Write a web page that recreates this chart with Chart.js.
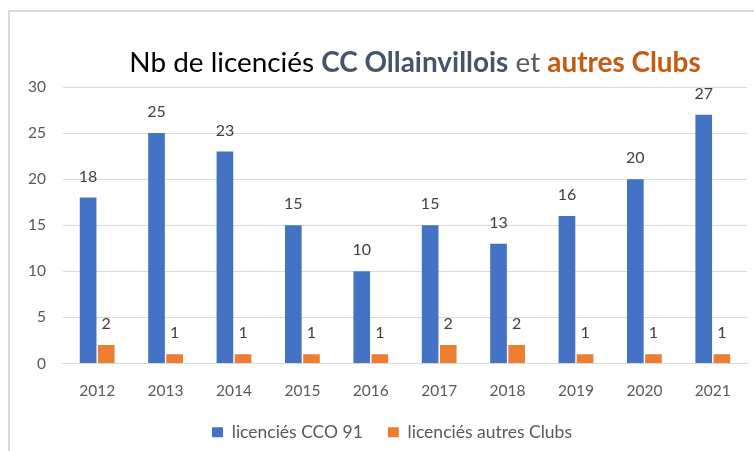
<!DOCTYPE html>
<html>
<head>
<meta charset="utf-8">
<script src="https://cdn.jsdelivr.net/npm/chart.js@4"></script>
<style>
    body { margin: 0; background: #fff; font-family: Lato, sans-serif; }
    #frame {
        position: absolute; left: 8px; top: 10px; width: 760px; height: 460px;
        border-left: 2px solid #d9d9d9; border-top: 2px solid #d9d9d9;
    }
    #title {
        position: absolute; left: 0; width: 830px; top: 44px;
        text-align: center; font-size: 27.9px; color: #000; white-space: nowrap;
    }
    #title .cc { font-weight: bold; color: #44546a; }
    #title .et { color: #595959; }
    #title .autres { font-weight: bold; color: #c55a11; }
    #wrap { position: absolute; left: 0; top: 0; width: 754px; height: 451px; }
</style>
</head>
<body>
<div id="frame"></div>
<div id="wrap"><canvas id="myChart"></canvas></div>
<div id="title">Nb de licenciés <span class="cc">CC Ollainvillois</span> <span class="et">et</span> <span class="autres">autres Clubs</span></div>
<script>
const years = ["2012", "2013", "2014", "2015", "2016", "2017", "2018", "2019", "2020", "2021"];
const licenciesCCO = [18, 25, 23, 15, 10, 15, 13, 16, 20, 27];
const licenciesAutres = [2, 1, 1, 1, 1, 2, 2, 1, 1, 1];
const yTicks = [0, 5, 10, 15, 20, 25, 30];

// draws the value above each bar
const valueLabels = {
    id: "valueLabels",
    afterDatasetsDraw(chart) {
        const ctx = chart.ctx;
        ctx.save();
        ctx.font = "16px Lato";
        ctx.fillStyle = "#404040";
        ctx.textAlign = "center";
        ctx.textBaseline = "bottom";
        chart.data.datasets.forEach((ds, i) => {
            chart.getDatasetMeta(i).data.forEach((bar, j) => {
                ctx.fillText(ds.data[j], bar.x, bar.y - 13);
            });
        });
        ctx.restore();
    },
};

// legend sits a bit right of the canvas centre in the original
const legendShift = {
    id: "legendShift",
    afterLayout(chart) {
        chart.legend.left += 13;
        chart.legend.right += 13;
    },
};

new Chart("myChart", {
    type: "bar",
    data: {
        labels: years,
        datasets: [
            {
                label: "licenciés CCO 91",
                backgroundColor: "#4472c4",
                data: licenciesCCO,
            },
            {
                label: "licenciés autres Clubs",
                backgroundColor: "#ed7d31",
                data: licenciesAutres,
            },
        ],
    },
    plugins: [valueLabels, legendShift],
    options: {
        responsive: true,
        maintainAspectRatio: false,
        animation: false,
        datasets: {
            bar: { categoryPercentage: 0.53, barPercentage: 0.92 },
        },
        layout: { padding: { top: 87, left: 11, right: 7, bottom: 0 } },
        plugins: {
            legend: {
                position: "bottom",
                labels: {
                    boxWidth: 11,
                    boxHeight: 10,
                    padding: 25,
                    color: "#595959",
                    font: { family: "Lato", size: 17.5 },
                },
            },
            title: { display: false },
            tooltip: { enabled: false },
        },
        scales: {
            x: {
                grid: { display: false },
                border: { color: "#d9d9d9" },
                ticks: { color: "#595959", padding: 10, font: { family: "Lato", size: 15.5 } },
                afterFit: (axis) => { axis.height = 35; },
            },
            y: {
                min: 0,
                max: 30,
                afterBuildTicks: (axis) => { axis.ticks = yTicks.map((v) => ({ value: v })); },
                grid: { color: "#d9d9d9", drawTicks: false },
                border: { display: false },
                ticks: { color: "#595959", padding: 17, font: { family: "Lato", size: 15.5 } },
            },
        },
    },
});
</script>
</body>
</html>
